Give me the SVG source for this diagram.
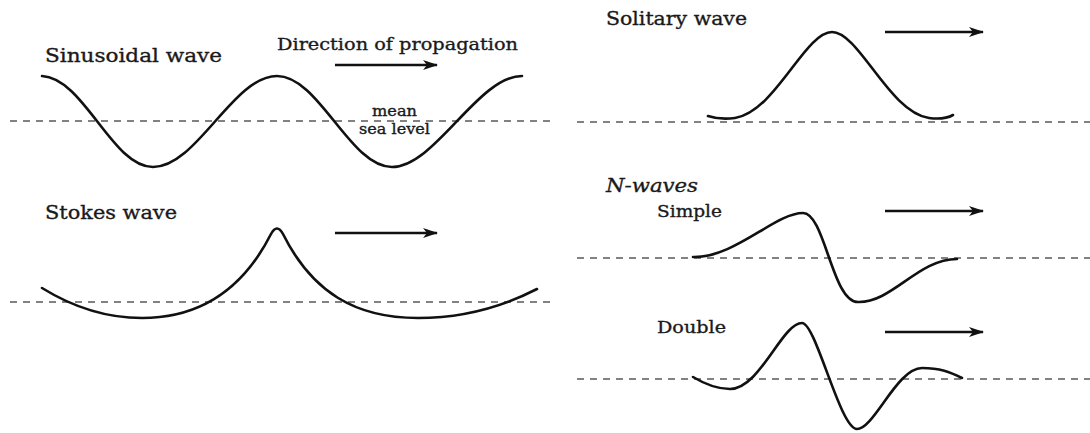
<svg xmlns="http://www.w3.org/2000/svg" width="1090" height="433" viewBox="0 0 1090 433">
<style>
  .wave{fill:none;stroke:#111;stroke-width:2.6;stroke-linecap:round;stroke-linejoin:round}
  .msl{fill:none;stroke:#5a5a5a;stroke-width:1.7;stroke-dasharray:7 6}
  .arr{fill:none;stroke:#111;stroke-width:2.4}
  .t{font-family:"DejaVu Serif","Liberation Serif",serif;fill:#1a1a1a;stroke:#1a1a1a;stroke-width:0.35}
  .big{font-size:19px}
  .mid{font-size:17px}
  .sm{font-size:14px}
</style>
<defs>
  <marker id="ah" markerUnits="userSpaceOnUse" markerWidth="16" markerHeight="12" refX="14" refY="5" orient="auto">
    <path d="M0,0 L15,5 L0,10 L4,5 Z" fill="#111"/>
  </marker>
</defs>
<rect width="1090" height="433" fill="#fff"/>

<g id="sea-levels">
  <line class="msl" x1="10" y1="121" x2="553" y2="121"/>
  <line class="msl" x1="10" y1="302" x2="553" y2="302"/>
  <line class="msl" x1="577" y1="122" x2="1090" y2="122"/>
  <line class="msl" x1="577" y1="258" x2="1090" y2="258"/>
  <line class="msl" x1="577" y1="379" x2="1090" y2="379"/>
</g>

<g id="sinusoidal">
  <text class="t big" x="45" y="62" textLength="177" lengthAdjust="spacingAndGlyphs">Sinusoidal wave</text>
  <text class="t mid" x="277" y="50" textLength="241" lengthAdjust="spacingAndGlyphs">Direction of propagation</text>
  <path class="wave" d="M42,76 C84,78 112,167 153,167 C197,167 233,76 277,76 C319,76 350,167 392,167 C435,167 478,76 522,76"/>
  <text class="t sm" x="372" y="116" textLength="45" lengthAdjust="spacingAndGlyphs">mean</text>
  <text class="t sm" x="359" y="134" textLength="71" lengthAdjust="spacingAndGlyphs">sea level</text>
</g>

<g id="stokes">
  <text class="t big" x="45" y="219" textLength="132" lengthAdjust="spacingAndGlyphs">Stokes wave</text>
  <path class="wave" d="M42,288 C76,309 108,318 142,318 C195,318 240,295 271,234 Q277,223 283,234 C312,292 355,318 418,318 C458,318 500,308 537,289"/>
</g>

<g id="solitary">
  <text class="t big" x="606" y="25" textLength="141" lengthAdjust="spacingAndGlyphs">Solitary wave</text>
  <path class="wave" d="M708,116 Q720,120 735,118 C775,112 805,32 832,32 C859,32 889,112 929,118 Q944,120 953,115"/>
</g>

<g id="n-waves">
  <text class="t big" x="606" y="192" font-style="italic" textLength="92" lengthAdjust="spacingAndGlyphs">N-waves</text>
</g>

<g id="n-simple">
  <text class="t mid" x="657" y="217" textLength="65" lengthAdjust="spacingAndGlyphs">Simple</text>
  <path class="wave" d="M693,257 C735,258 775,213 803,213 C825,213 832,302 858,302 C892,303 918,259 957,259"/>
</g>

<g id="n-double">
  <text class="t mid" x="657" y="333" textLength="69" lengthAdjust="spacingAndGlyphs">Double</text>
  <path class="wave" d="M693,377 C708,386 718,389 730,389 C760,389 782,323 802,323 C816,323 840,429 857,429 C874,429 897,368 922,368 C940,368 950,372 962,378"/>
</g>

<g id="connectors">
  <line class="arr" x1="335" y1="65" x2="437" y2="65" marker-end="url(#ah)"/>
  <line class="arr" x1="335" y1="233" x2="437" y2="233" marker-end="url(#ah)"/>
  <line class="arr" x1="885" y1="32" x2="983" y2="32" marker-end="url(#ah)"/>
  <line class="arr" x1="885" y1="211" x2="983" y2="211" marker-end="url(#ah)"/>
  <line class="arr" x1="885" y1="332" x2="983" y2="332" marker-end="url(#ah)"/>
</g>
</svg>
